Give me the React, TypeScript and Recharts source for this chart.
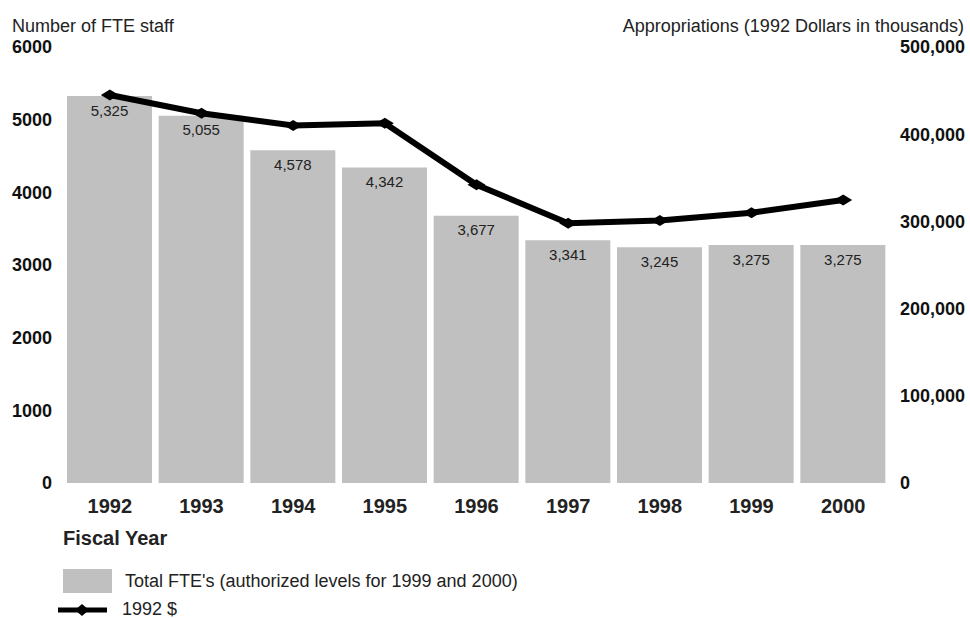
import React from 'react';
import { ComposedChart, Bar, Line, XAxis, YAxis, LabelList } from 'recharts';

const years = ['1992', '1993', '1994', '1995', '1996', '1997', '1998', '1999', '2000'];
const fteStaff = [5325, 5055, 4578, 4342, 3677, 3341, 3245, 3275, 3275];
const appropriations = [445000, 424000, 410000, 412500, 342000, 298000, 301000, 310000, 324500];
const leftTicks = [0, 1000, 2000, 3000, 4000, 5000, 6000];
const rightTicks = [0, 100000, 200000, 300000, 400000, 500000];

const leftTitle = 'Number of FTE staff';
const rightTitle = 'Appropriations (1992 Dollars in thousands)';
const xTitle = 'Fiscal Year';
const barLegend = "Total FTE's (authorized levels for 1999 and 2000)";
const lineLegend = '1992 $';

const data = years.map((y, i) => ({ year: y, fte: fteStaff[i], dollars: appropriations[i] }));

const FONT = '"Liberation Sans", Arial, Helvetica, sans-serif';
const fmt = (v: number) => Number(v).toLocaleString('en-US');

const Diamond = (props: any) => {
  const { cx, cy } = props;
  if (cx == null || cy == null) return null;
  const w = 9, h = 5.5;
  return (
    <polygon
      points={`${cx - w},${cy} ${cx},${cy - h} ${cx + w},${cy} ${cx},${cy + h}`}
      fill="#000"
      stroke="none"
    />
  );
};

export default function App() {
  return (
    <div style={{ position: 'absolute', left: 0, top: 0, width: 970, height: 618, background: '#fff', fontFamily: FONT }}>
      <ComposedChart
        width={970}
        height={618}
        data={data}
        margin={{ top: 47, right: 0, bottom: 105, left: 0 }}
      >
        <XAxis
          dataKey="year"
          height={30}
          axisLine={false}
          tickLine={false}
          tickSize={0}
          tickMargin={16}
          tick={{ fontSize: 20, fontWeight: 'bold', fill: '#222', fontFamily: FONT }}
          interval={0}
        />
        <YAxis
          yAxisId="left"
          orientation="left"
          width={64}
          domain={[0, 6000]}
          ticks={leftTicks}
          axisLine={false}
          tickLine={false}
          tickSize={0}
          tickMargin={12}
          tick={{ fontSize: 18, fontWeight: 'bold', fill: '#111', fontFamily: FONT }}
        />
        <YAxis
          yAxisId="right"
          orientation="right"
          width={81}
          domain={[0, 500000]}
          ticks={rightTicks}
          axisLine={false}
          tickLine={false}
          tickSize={0}
          tickMargin={11}
          tickFormatter={fmt}
          tick={{ fontSize: 18, fontWeight: 'bold', fill: '#111', fontFamily: FONT }}
        />
        <Bar yAxisId="left" dataKey="fte" fill="#c0c0c0" barSize={85} isAnimationActive={false}>
          <LabelList
            dataKey="fte"
            position="insideTop"
            offset={9}
            formatter={fmt}
            style={{ fontSize: 15, fill: '#222', fontFamily: FONT }}
          />
        </Bar>
        <Line
          yAxisId="right"
          type="linear"
          dataKey="dollars"
          stroke="#000"
          strokeWidth={6}
          dot={<Diamond />}
          activeDot={false}
          isAnimationActive={false}
        />
      </ComposedChart>
      <svg
        width={970}
        height={618}
        style={{ position: 'absolute', left: 0, top: 0, pointerEvents: 'none' }}
      >
        <text x={12} y={32} fontSize={18} fill="#222" fontFamily={FONT}>{leftTitle}</text>
        <text x={964} y={32} fontSize={18} fill="#222" fontFamily={FONT} textAnchor="end">{rightTitle}</text>
        <text x={63} y={545} fontSize={20} fontWeight="bold" fill="#222" fontFamily={FONT}>{xTitle}</text>
        <rect x={63} y={569} width={49} height={24} fill="#c0c0c0" />
        <text x={125} y={587} fontSize={18} fill="#222" fontFamily={FONT}>{barLegend}</text>
        <line x1={58} y1={610} x2={107} y2={610} stroke="#000" strokeWidth={5} />
        <polygon points="75,610 82,604 89,610 82,616" fill="#000" />
        <text x={122} y={615} fontSize={18} fill="#222" fontFamily={FONT}>{lineLegend}</text>
      </svg>
    </div>
  );
}
